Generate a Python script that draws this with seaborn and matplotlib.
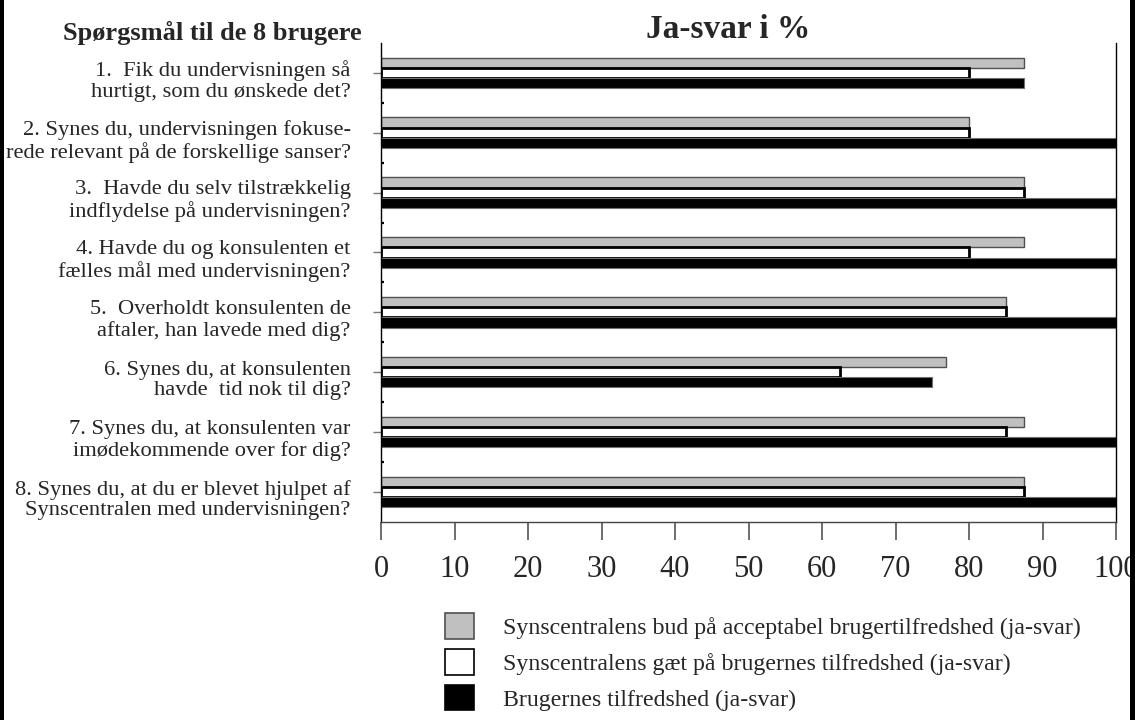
import numpy as np
import pandas as pd
import matplotlib
matplotlib.use("Agg")
import matplotlib.pyplot as plt
import matplotlib.transforms as mtransforms
from matplotlib.patches import Rectangle, Patch
import seaborn as sns

# Survey questions (y categories)
questions = [
    "1.  Fik du undervisningen så\nhurtigt, som du ønskede det?",
    "2. Synes du, undervisningen fokuse-\nrede relevant på de forskellige sanser?",
    "3.  Havde du selv tilstrækkelig\nindflydelse på undervisningen?",
    "4. Havde du og konsulenten et\nfælles mål med undervisningen?",
    "5.  Overholdt konsulenten de\naftaler, han lavede med dig?",
    "6. Synes du, at konsulenten\nhavde  tid nok til dig?",
    "7. Synes du, at konsulenten var\nimødekommende over for dig?",
    "8. Synes du, at du er blevet hjulpet af\nSynscentralen med undervisningen?",
]

series_names = [
    "Synscentralens bud på acceptabel brugertilfredshed (ja-svar)",
    "Synscentralens gæt på brugernes tilfredshed (ja-svar)",
    "Brugernes tilfredshed (ja-svar)",
]

# Percent "ja" answers per question
bud = [87.5, 80.0, 87.5, 87.5, 85.0, 76.9, 87.5, 87.5]
gaet = [80.0, 80.0, 87.5, 80.0, 85.0, 62.5, 85.0, 87.5]
brugere = [87.5, 100.0, 100.0, 100.0, 100.0, 75.0, 100.0, 100.0]

x_ticks = list(range(0, 101, 10))

df = pd.DataFrame({
    "spm": questions * 3,
    "serie": [series_names[0]] * 8 + [series_names[1]] * 8 + [series_names[2]] * 8,
    "pct": bud + gaet + brugere,
})

sns.set_style("white")
plt.rcParams["font.family"] = ["Liberation Serif", "DejaVu Serif"]

fig = plt.figure(figsize=(11.35, 7.2), dpi=100)
ax = fig.add_axes([381 / 1135, 1 - 521.7 / 720, 735 / 1135, (521.7 - 43) / 720])

colors = ["#c0c0c0", "#ffffff", "#000000"]
sns.barplot(data=df, y="spm", x="pct", hue="serie", hue_order=series_names,
            order=questions, palette=colors, orient="h", width=0.51,
            saturation=1, legend=False, ax=ax, errorbar=None)

edge_styles = [("#505050", 1.0), ("#000000", 2.0), ("#707070", 0.8)]
for cont, (ec, lw) in zip(ax.containers, edge_styles):
    for bar in cont:
        bar.set_edgecolor(ec)
        bar.set_linewidth(lw)

ax.set_xlim(0, 100)
ax.set_ylim(7.5, -0.5)
ax.set_xticks(x_ticks)
ax.set_xticklabels([str(t) for t in x_ticks], fontsize=22)
ax.set_xlabel("")
ax.set_ylabel("")

ax.tick_params(axis="x", direction="out", length=13, width=1.2, color="#555555",
               pad=11, bottom=True)
ax.tick_params(axis="y", which="major", direction="out", length=5.8, width=1,
               color="#777777", pad=16, labelsize=16.2, left=True)
ax.set_yticks(np.arange(0.5, 7.0, 1.0), minor=True)
ax.tick_params(axis="y", which="minor", direction="in", length=2.5, width=1.6,
               color="#000000", left=True)

for lab in ax.get_yticklabels():
    lab.set_linespacing(1.12)
    lab.set_transform(lab.get_transform() + mtransforms.ScaledTranslation(0, -5 / 100, fig.dpi_scale_trans))

for side in ["left", "right", "bottom"]:
    ax.spines[side].set_visible(True)
    ax.spines[side].set_linewidth(1.0)
ax.spines["left"].set_color("#000000")
ax.spines["right"].set_color("#000000")
ax.spines["bottom"].set_color("#444444")
ax.spines["top"].set_visible(False)

fig.text(728 / 1135, 1 - 30 / 720, "Ja-svar i %", ha="center", va="center",
         fontsize=24, fontweight="bold")
fig.text(212 / 1135, 1 - 33 / 720, "Spørgsmål til de 8 brugere", ha="center",
         va="center", fontsize=19, fontweight="bold")

handles = [Patch(facecolor=c, edgecolor=e, linewidth=1.2)
           for c, e in zip(colors, ["#505050", "#000000", "#000000"])]
fig.legend(handles, series_names, loc="upper left",
           bbox_to_anchor=(429 / 1135, 1 - 597 / 720), frameon=False,
           fontsize=17.2, handlelength=1.21, handleheight=1.26,
           handletextpad=1.21, labelspacing=0.42, borderpad=0.19)

# black page borders at both sides
fig.patches.append(Rectangle((0, 0), 4 / 1135, 1, transform=fig.transFigure,
                             facecolor="black", edgecolor="none", zorder=10))
fig.patches.append(Rectangle((1130 / 1135, 0), 5 / 1135, 1, transform=fig.transFigure,
                             facecolor="black", edgecolor="none", zorder=10))

fig.savefig("out.png", dpi=100)
